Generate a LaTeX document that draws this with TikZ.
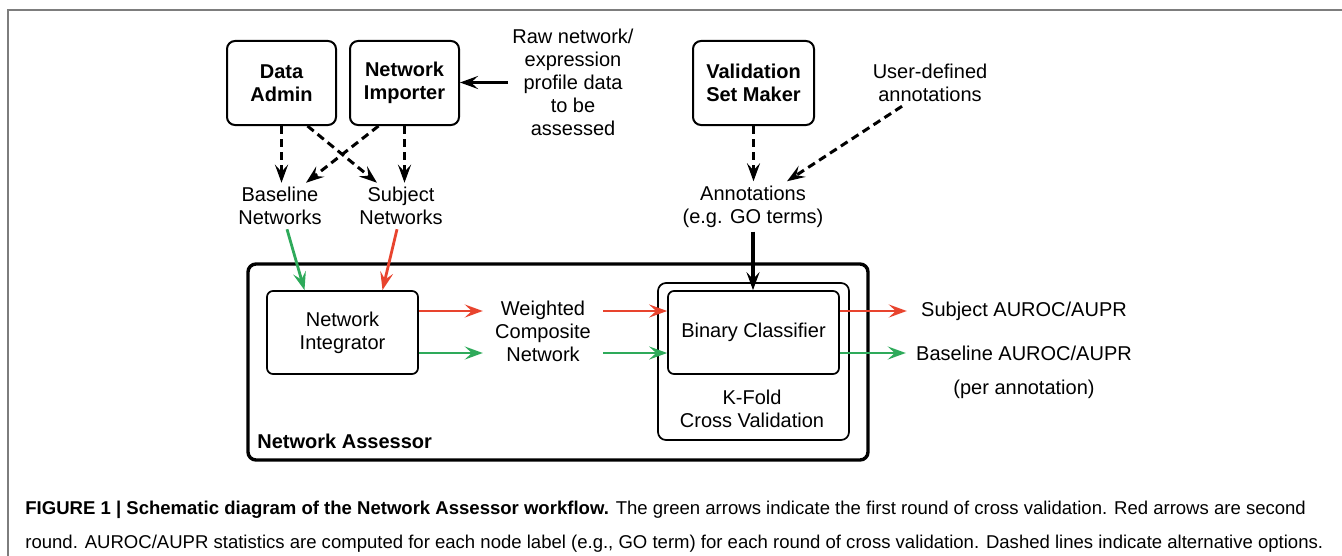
\documentclass[tikz,border=0pt]{standalone}
\usepackage{fontspec}
\setmainfont{Liberation Sans}
\newfontfamily\capfont[FakeStretch=1.0]{Liberation Sans}
\usetikzlibrary{arrows.meta,positioning}
\definecolor{firstrnd}{RGB}{46,170,90}
\definecolor{secondrnd}{RGB}{232,68,46}
\definecolor{framegray}{RGB}{125,125,125}

\begin{document}
\begin{tikzpicture}[x=0.5pt,y=-0.5pt,>={Stealth[length=9pt,width=6.5pt,inset=3.5pt]},
 every node/.style={font=\fontsize{10}{11.5}\selectfont},
 tool/.style={draw,line width=1pt,rounded corners=4pt,align=center,minimum width=54.5pt,minimum height=42pt,font=\fontsize{10}{11.5}\selectfont\bfseries},
 stage/.style={draw,line width=0.85pt,rounded corners=3pt,align=center,minimum height=41.5pt},
 txt/.style={align=center,inner sep=2pt},
 alt/.style={->,dash pattern=on 4pt off 2.5pt,line width=1.5pt},
 flow/.style={->,line width=1.6pt},
 rnd/.style={->,line width=1.4pt},
 capline/.style={anchor=base west,inner sep=0pt,font=\capfont\fontsize{9.27}{11}\selectfont}]
\useasboundingbox (0,0) rectangle (1342,556);
\draw[framegray,line width=1pt] (8,600) -- (8,10) -- (1400,10);

% tools on top
\node[tool] (admin) at (281.5,83) {Data\\Admin};
\node[tool,right=6pt of admin] (importer) {Network\\Importer};
\node[txt] (raw) at (573,82.5) {Raw network/\\expression\\profile data\\to be\\assessed};
\node[tool,minimum width=60.5pt] (valset) at (753.5,83) {Validation\\Set Maker};
\node[txt] (userann) at (930,83) {User-defined\\annotations};

\node[txt] (basenet) at (280,206) {Baseline\\Networks};
\node[txt] (subjnet) at (401,206) {Subject\\Networks};
\node[txt] (annot) at (753,206.5) {Annotations\\(e.g. GO terms)};

% the assessor
\node[draw,line width=1.7pt,rounded corners=4pt,minimum width=310pt,minimum height=98pt] (assessor) at (558,362) {};
\node[anchor=west,inner sep=0pt,font=\fontsize{10}{11.5}\selectfont\bfseries] (assessorlbl) at (257,441) {Network Assessor};
\node[stage,minimum width=75.5pt] (integ) at (342.5,332.5) {Network\\Integrator};
\node[txt] (wcomp) at (543,331.5) {Weighted\\Composite\\Network};
\node[draw,line width=0.85pt,rounded corners=4pt,minimum width=95.5pt,minimum height=78.5pt] (kfold) at (753.5,361.5) {};
\node[stage,minimum width=85.5pt] (binclass) at (753.5,332.5) {Binary Classifier};
\node[txt] (kfoldlbl) at (752,408.5) {K-Fold\\Cross Validation};

\node[txt] (subjout) at (1024,311) {Subject AUROC/AUPR};
\node[txt] (baseout) at (1024,353) {Baseline AUROC/AUPR};
\node[txt] (perann) at (1024,389) {(per annotation)};

\draw[flow] (raw.west) -- (raw.west -| importer.east);
\draw[alt] (admin.south) -- (admin.south |- basenet.north);
\draw[alt] ([xshift=13pt]admin.south) -- ([xshift=-12pt]subjnet.north);
\draw[alt] ([xshift=-13pt]importer.south) -- ([xshift=13pt]basenet.north);
\draw[alt] (importer.south) -- (importer.south |- subjnet.north);
\draw[alt] (valset.south) -- (valset.south |- annot.north);
\draw[alt] ([xshift=-14pt]userann.south) -- ([xshift=17pt]annot.north);
\draw[flow] (annot.south) -- (annot.south |- binclass.north);

% green = first round, red = second round
\draw[rnd,firstrnd] ([xshift=3.5pt]basenet.south) -- ([xshift=-19pt]integ.north);
\draw[rnd,secondrnd] ([xshift=-2pt]subjnet.south) -- ([xshift=20pt]integ.north);
\draw[rnd,secondrnd,shorten >=4pt] ([yshift=10.75pt]integ.east) -- ([yshift=10.75pt]integ.east -| wcomp.west);
\draw[rnd,firstrnd,shorten >=4pt] ([yshift=-10.25pt]integ.east) -- ([yshift=-10.25pt]integ.east -| wcomp.west);
\draw[rnd,secondrnd,shorten <=4pt] ([yshift=10.75pt]integ.east -| wcomp.east) -- ([yshift=10.75pt]integ.east -| binclass.west);
\draw[rnd,firstrnd,shorten <=4pt] ([yshift=-10.25pt]integ.east -| wcomp.east) -- ([yshift=-10.25pt]integ.east -| binclass.west);
\draw[rnd,secondrnd,shorten >=5pt] ([yshift=10.75pt]binclass.east) -- (subjout.west);
\draw[rnd,firstrnd,shorten >=3pt] ([yshift=-10.25pt]binclass.east) -- (baseout.west);

\node[capline] (capone) at (25,514) {\textbf{FIGURE 1 | Schematic diagram of the Network Assessor workflow.} The green arrows indicate the first round of cross validation. Red arrows are second};
\node[capline] (captwo) at (25,548) {round. AUROC/AUPR statistics are computed for each node label (e.g., GO term) for each round of cross validation. Dashed lines indicate alternative options.};
\end{tikzpicture}
\end{document}
